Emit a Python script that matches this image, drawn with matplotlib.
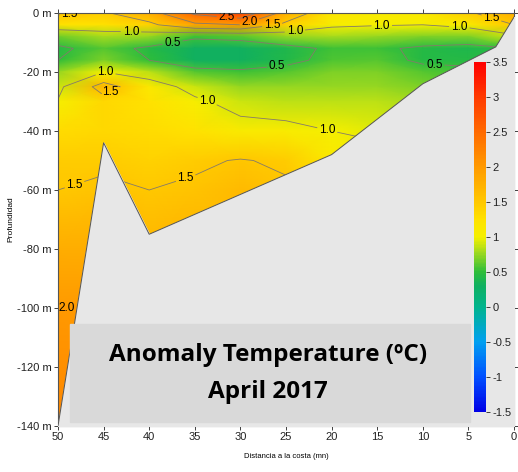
import matplotlib
matplotlib.use("Agg")
import matplotlib.pyplot as plt
import numpy as np
from matplotlib.colors import LinearSegmentedColormap, Normalize
from matplotlib.patches import Rectangle

# distance from coast (km/nm) and depth (m) of the section grid
dist = [50, 45, 40, 35, 30, 25, 20, 15, 10, 5, 0]
depth = [0, -4, -8, -12, -16, -20, -25, -30, -40, -50, -60, -80, -100, -140]

# temperature anomaly (ºC), one row per depth, columns follow dist
anom = [
    [1.55, 1.45, 1.8, 2.6, 2.9, 1.8, 1.2, 1.1, 1.15, 1.45, 1.8],
    [1.25, 1.25, 1.4, 1.9, 2.0, 1.4, 1.05, 1.02, 1.0, 1.1, 1.5],
    [0.65, 0.8, 0.75, 0.55, 0.6, 0.75, 0.8, 0.75, 0.7, 0.7, 0.9],
    [0.45, 0.6, 0.45, 0.3, 0.3, 0.4, 0.55, 0.55, 0.45, 0.4, 0.5],
    [0.5, 0.7, 0.5, 0.3, 0.3, 0.42, 0.58, 0.6, 0.45, 0.45, 0.5],
    [0.75, 1.0, 0.85, 0.6, 0.55, 0.6, 0.7, 0.7, 0.6, 0.55, 0.55],
    [0.9, 1.7, 1.15, 0.9, 0.75, 0.75, 0.75, 0.75, 0.7, 0.6, 0.6],
    [1.02, 1.35, 1.25, 1.05, 0.9, 0.85, 0.85, 0.85, 0.8, 0.7, 0.7],
    [1.3, 1.35, 1.3, 1.25, 1.1, 1.08, 1.0, 0.95, 0.9, 0.8, 0.8],
    [1.45, 1.45, 1.4, 1.45, 1.52, 1.45, 1.15, 1.1, 1.0, 0.9, 0.9],
    [1.5, 1.55, 1.5, 1.55, 1.65, 1.55, 1.3, 1.2, 1.1, 1.0, 1.0],
    [1.8, 1.8, 1.7, 1.75, 1.7, 1.6, 1.4, 1.3, 1.2, 1.1, 1.1],
    [2.0, 2.0, 1.8, 1.8, 1.7, 1.6, 1.4, 1.3, 1.2, 1.1, 1.1],
    [2.2, 2.2, 1.9, 1.8, 1.7, 1.6, 1.4, 1.3, 1.2, 1.1, 1.1],
]

# sea floor profile
bottom_km = [50, 45, 40, 20, 10, 2, 0]
bottom_m = [-140, -44, -75, -48, -24, -11.5, -1.4]

cb_ticks = [3.5, 3, 2.5, 2, 1.5, 1, 0.5, 0, -0.5, -1, -1.5]
levels = [0.5, 1.0, 1.5, 2.0, 2.5]

# where the contour labels sit
label_pos = [(48.7, -0.7), (31.5, -2), (29, -3), (26.5, -4.5), (42, -6),
             (37.5, -9), (24, -7), (14.5, -4), (6, -5), (2.5, -2),
             (26, -17), (8.7, -15), (44.8, -20), (44, -28), (33.5, -28.5),
             (20.5, -40), (48, -60), (36, -56), (49, -97)]

plt.rcParams['font.family'] = ['Liberation Sans', 'DejaVu Sans']

cmap = LinearSegmentedColormap.from_list("anom", [
    (0.00, '#0000e6'), (0.10, '#0050ff'), (0.20, '#00a0f0'),
    (0.30, '#00b48c'), (0.36, '#10b060'), (0.40, '#2ebd3a'), (0.46, '#a8dc1c'),
    (0.50, '#f5f000'), (0.55, '#ffe200'), (0.60, '#ffc800'),
    (0.70, '#ff9a00'), (0.80, '#ff6a00'), (0.90, '#ff3a00'),
    (1.00, '#ff0000')])
norm = Normalize(-1.5, 3.5)

fig = plt.figure(figsize=(5.18, 4.72), dpi=100)
ax = fig.add_axes([58 / 518, 1 - 426 / 472, 456 / 518, 413 / 472])

X, Y = np.meshgrid(dist, depth)
Z = np.array(anom)
ax.pcolormesh(X, Y, Z, cmap=cmap, norm=norm, shading='gouraud', zorder=1)
cs = ax.contour(X, Y, Z, levels=levels, colors='#857a6a', linewidths=0.6, zorder=2)
lbls = ax.clabel(cs, fmt='%.1f', fontsize=8.5, colors='black', inline=True,
                 inline_spacing=2, manual=label_pos)
for t in lbls:
    t.set_rotation(0)

ax.fill_between(bottom_km, bottom_m, -140, color='#e7e7e7', zorder=3)
ax.plot(bottom_km, bottom_m, color='#555555', lw=0.7, zorder=3)

ax.set_xlim(50, 0)
ax.set_ylim(-140, 0)
ax.set_xticks(range(50, -1, -5))
ax.set_yticks(range(0, -141, -20))
ax.set_yticklabels([f"{v} m" for v in range(0, -141, -20)])
ax.tick_params(direction='out', top=True, right=True, labelsize=8,
               colors='#222222', length=3, width=0.6, pad=1.5)
for s in ax.spines.values():
    s.set_color('#555555')
    s.set_linewidth(0.8)
ax.set_xlabel("Distancia a la costa (mn)", fontsize=5.5, labelpad=8)
ax.set_ylabel("Profundidad", fontsize=6, labelpad=2)

# colorbar inside the plot
cax = fig.add_axes([474 / 518, 1 - 412 / 472, 12 / 518, 350 / 472])
cb = fig.colorbar(plt.cm.ScalarMappable(norm=norm, cmap=cmap), cax=cax,
                  ticks=cb_ticks, format='%g')
cb.outline.set_linewidth(0)
cax.tick_params(labelsize=8, length=3, width=0.6, colors='#222222', pad=1.5)

# title box
fig.patches.append(Rectangle((70 / 518, 1 - 422 / 472), 400 / 518, 98 / 472,
                             transform=fig.transFigure, color='#d9d9d9', zorder=5))
fig.text(268 / 518, 1 - 355 / 472, "Anomaly Temperature (ºC)", family='Open Sans',
         weight='bold', fontsize=17.5, ha='center', va='center', zorder=6)
fig.text(268 / 518, 1 - 392 / 472, "April 2017", family='Open Sans',
         weight='bold', fontsize=17.5, ha='center', va='center', zorder=6)

fig.savefig("out.png", dpi=100)
